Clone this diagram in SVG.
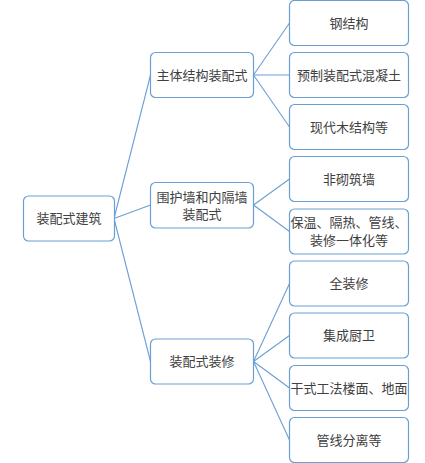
<svg xmlns="http://www.w3.org/2000/svg" width="425" height="463" viewBox="0 0 425 463">
<style>
.n rect{fill:#fff;stroke:#6a9fd4;stroke-width:1.2}
.n text{font-family:"Liberation Sans","Noto Sans CJK SC",sans-serif;font-size:13px;fill:#404040;text-anchor:middle;dominant-baseline:central}
#links line{stroke:#6a9fd4;stroke-width:1.1;fill:none}
</style>
<rect width="425" height="463" fill="#fff"/>
<g id="links">
<line x1="114" y1="218.5" x2="150.5" y2="75"/>
<line x1="114" y1="218.5" x2="150.5" y2="205"/>
<line x1="114" y1="218.5" x2="150.5" y2="361.5"/>
<line x1="253.5" y1="75" x2="289.5" y2="23"/>
<line x1="253.5" y1="75" x2="289.5" y2="75"/>
<line x1="253.5" y1="75" x2="289.5" y2="127"/>
<line x1="253.5" y1="205" x2="289.5" y2="179"/>
<line x1="253.5" y1="205" x2="289.5" y2="231.5"/>
<line x1="253.5" y1="361.5" x2="289.5" y2="283.5"/>
<line x1="253.5" y1="361.5" x2="289.5" y2="335.5"/>
<line x1="253.5" y1="361.5" x2="289.5" y2="388"/>
<line x1="253.5" y1="361.5" x2="289.5" y2="440"/>
</g>
<g id="root" class="n"><rect x="23.5" y="196" width="91" height="45" rx="5"/><text x="69" y="218.5">装配式建筑</text></g>
<g id="main" class="n"><rect x="150.5" y="52.5" width="103" height="45" rx="5"/><text x="202" y="75">主体结构装配式</text></g>
<g id="wall" class="n"><rect x="150.5" y="182.5" width="103" height="45.5" rx="5"/><text x="202" y="197">围护墙和内隔墙</text><text x="202" y="214">装配式</text></g>
<g id="deco" class="n"><rect x="150.5" y="339" width="103" height="45" rx="5"/><text x="202" y="361.5">装配式装修</text></g>
<g id="steel" class="n"><rect x="289.5" y="0.5" width="119" height="45" rx="5"/><text x="349" y="23">钢结构</text></g>
<g id="concrete" class="n"><rect x="289.5" y="52.5" width="119" height="45" rx="5"/><text x="349" y="75">预制装配式混凝土</text></g>
<g id="wood" class="n"><rect x="289.5" y="104.5" width="119" height="45" rx="5"/><text x="349" y="127">现代木结构等</text></g>
<g id="nonmasonry" class="n"><rect x="289.5" y="156.5" width="119" height="45" rx="5"/><text x="349" y="179">非砌筑墙</text></g>
<g id="insulation" class="n"><rect x="289.5" y="209" width="119" height="45" rx="5"/><text x="349" y="222">保温、隔热、管线、</text><text x="349" y="240">装修一体化等</text></g>
<g id="full" class="n"><rect x="289.5" y="261" width="119" height="45" rx="5"/><text x="349" y="283.5">全装修</text></g>
<g id="kitchen" class="n"><rect x="289.5" y="313" width="119" height="45" rx="5"/><text x="349" y="335.5">集成厨卫</text></g>
<g id="dry" class="n"><rect x="289.5" y="365.5" width="119" height="45" rx="5"/><text x="349" y="388">干式工法楼面、地面</text></g>
<g id="pipe" class="n"><rect x="289.5" y="417.5" width="119" height="45" rx="5"/><text x="349" y="440">管线分离等</text></g>
</svg>
